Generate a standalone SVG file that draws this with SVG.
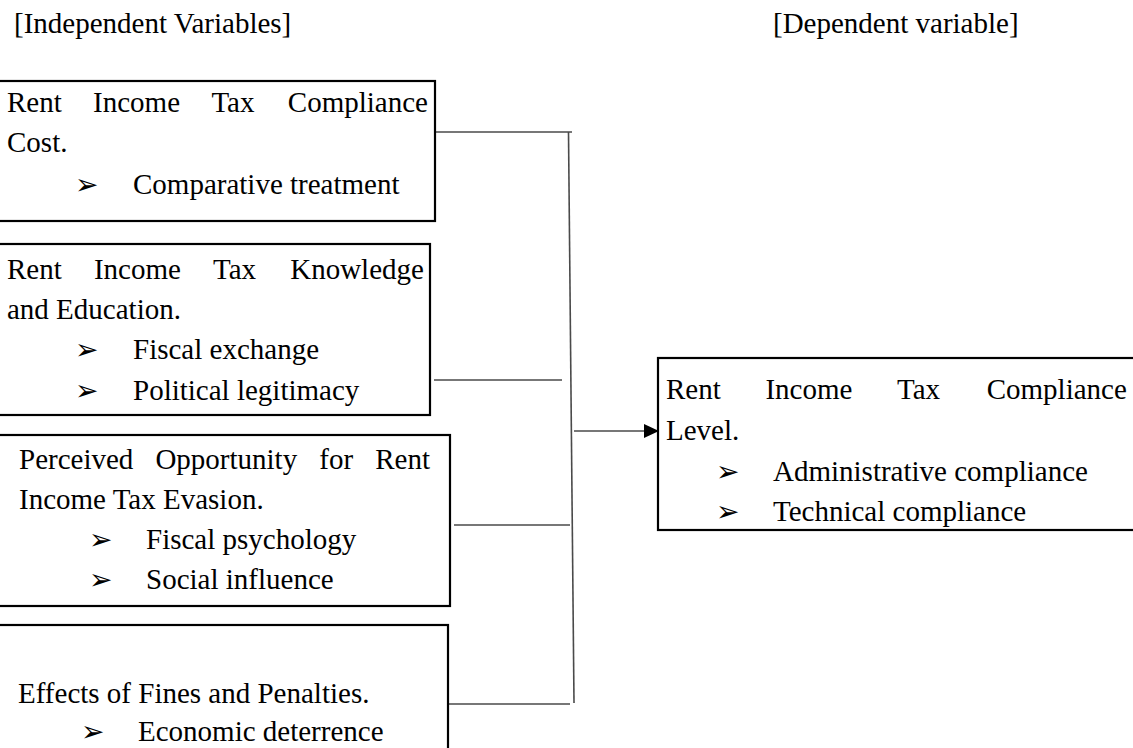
<svg xmlns="http://www.w3.org/2000/svg" width="1133" height="748" viewBox="0 0 1133 748">
<style>
text{font-family:"Liberation Serif","DejaVu Serif","DejaVu Sans",serif;font-size:29px;fill:#000}
.box{fill:#fff;stroke:#000;stroke-width:2.2}
.conn{stroke:#4a4a4a;stroke-width:1.6;fill:none}
.bl{font-family:"DejaVu Sans",sans-serif;font-size:28px}
</style>
<defs>
<marker id="arr" markerWidth="15" markerHeight="14" refX="15" refY="7" orient="auto" markerUnits="userSpaceOnUse">
<path d="M0,0 L15,7 L0,14 Z" fill="#000"/>
</marker>
</defs>
<rect width="1133" height="748" fill="#fff"/>
<text x="14" y="33">[Independent Variables]</text>
<text x="773" y="33">[Dependent variable]</text>

<g id="connectors">
<line class="conn" x1="436" y1="132" x2="572" y2="132"/>
<line class="conn" x1="568.5" y1="132" x2="574" y2="703"/>
<line class="conn" x1="434" y1="380" x2="562" y2="380"/>
<line class="conn" x1="454" y1="525" x2="570" y2="525"/>
<line class="conn" x1="448" y1="704" x2="570" y2="704"/>
<line class="conn" x1="574" y1="431" x2="659" y2="431" marker-end="url(#arr)"/>
</g>

<g id="node-cost">
<rect class="box" x="-3" y="81" width="438" height="140"/>
<text y="112"><tspan x="7">Rent</tspan><tspan x="93.1">Income</tspan><tspan x="211.4">Tax</tspan><tspan x="287.8">Compliance</tspan></text>
<text x="7" y="152">Cost.</text>
<text class="bl" x="75" y="194">➢</text>
<text x="133" y="194">Comparative treatment</text>
</g>

<g id="node-knowledge">
<rect class="box" x="-3" y="244" width="433" height="171"/>
<text y="279"><tspan x="7">Rent</tspan><tspan x="93.9">Income</tspan><tspan x="213">Tax</tspan><tspan x="290.2">Knowledge</tspan></text>
<text x="7" y="319">and Education.</text>
<text class="bl" x="75" y="359">➢</text>
<text x="133" y="359">Fiscal exchange</text>
<text class="bl" x="75" y="400">➢</text>
<text x="133" y="400">Political legitimacy</text>
</g>

<g id="node-opportunity">
<rect class="box" x="-3" y="435" width="453" height="171"/>
<text y="469"><tspan x="19">Perceived</tspan><tspan x="155.4">Opportunity</tspan><tspan x="319.3">for</tspan><tspan x="375.2">Rent</tspan></text>
<text x="19" y="509">Income Tax Evasion.</text>
<text class="bl" x="89" y="549">➢</text>
<text x="146" y="549">Fiscal psychology</text>
<text class="bl" x="89" y="589">➢</text>
<text x="146" y="589">Social influence</text>
</g>

<g id="node-fines">
<rect class="box" x="-3" y="625" width="451" height="140"/>
<text x="18" y="703">Effects of Fines and Penalties.</text>
<text class="bl" x="81" y="741">➢</text>
<text x="138" y="741">Economic deterrence</text>
</g>

<g id="node-level">
<rect class="box" x="658" y="358" width="480" height="172"/>
<text y="399"><tspan x="666">Rent</tspan><tspan x="765.4">Income</tspan><tspan x="897">Tax</tspan><tspan x="986.7">Compliance</tspan></text>
<text x="666" y="440">Level.</text>
<text class="bl" x="716" y="481">➢</text>
<text x="773" y="481">Administrative compliance</text>
<text class="bl" x="716" y="521">➢</text>
<text x="773" y="521">Technical compliance</text>
</g>
</svg>
